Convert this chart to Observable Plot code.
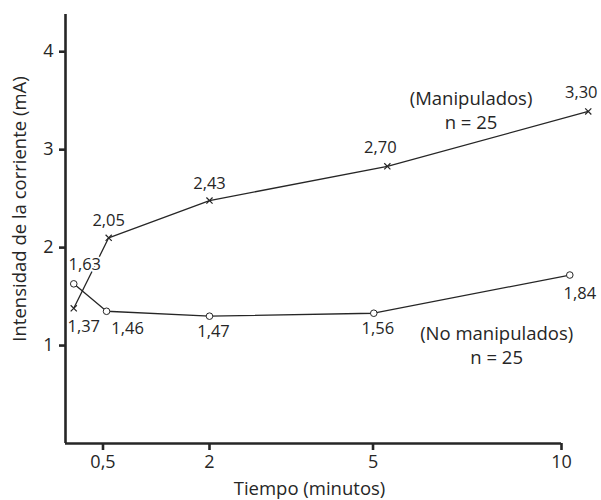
<!DOCTYPE html>
<html>
<head>
<meta charset="utf-8">
<script src="https://cdn.jsdelivr.net/npm/d3@7"></script>
<script src="https://cdn.jsdelivr.net/npm/@observablehq/plot@0.6"></script>
<style>
  html, body { margin: 0; padding: 0; background: #fff; }
  #chart svg { display: block; }
</style>
</head>
<body>
<div id="chart"></div>
<script>
// ---- data ----
const seriesNames = ["Manipulados", "No manipulados"];

const manipTime   = [0.11, 0.58, 2, 5.38, 10.71];
const manipValue  = [1.38, 2.10, 2.48, 2.83, 3.39];
const manipLabel  = ["1,37", "2,05", "2,43", "2,70", "3,30"];
const manipPlace  = ["belowRight", "above", "above", "aboveLeft", "aboveLeft"];

const noManipTime  = [0.11, 0.55, 2, 5.02, 10.22];
const noManipValue = [1.63, 1.35, 1.30, 1.33, 1.72];
const noManipLabel = ["1,63", "1,46", "1,47", "1,56", "1,84"];
const noManipPlace = ["aboveRight", "belowRightFar", "below", "below", "belowRight"];

const xTicks = [0.5, 2, 5, 10];
const xTickLabels = ["0,5", "2", "5", "10"];
const yTicks = [1, 2, 3, 4];

const annotTexts = ["(Manipulados)\nn = 25", "(No manipulados)\nn = 25"];
const annotTime  = [7.6, 8.28];
const annotValue = [3.21, 0.81];

const xTitle = "Tiempo (minutos)";
const yTitle = "Intensidad de la corriente (mA)";

// ---- build tables ----
const manip = manipTime.map((t, i) => ({series: seriesNames[0], t, v: manipValue[i], label: manipLabel[i], place: manipPlace[i]}));
const noManip = noManipTime.map((t, i) => ({series: seriesNames[1], t, v: noManipValue[i], label: noManipLabel[i], place: noManipPlace[i]}));
const all = manip.concat(noManip);
const annots = annotTexts.map((text, i) => ({text, t: annotTime[i], v: annotValue[i]}));

// label placement → offsets (pixels)
const placements = {
  above:         {dx: 0,  dy: -12},
  aboveLeft:     {dx: -7, dy: -13},
  aboveRight:    {dx: 11, dy: -14},
  belowRight:    {dx: 10, dy: 24},
  belowRightFar: {dx: 21, dy: 23},
  below:         {dx: 4,  dy: 21}
};

const W = 601, H = 500;
const mL = 65, mR = 40, mT = 14, mB = 57;
// hand-drawn, non-uniform time axis: piecewise scale
const xDomain = [0, 0.5, 2, 5, 10];
const xFrac = [0, 0.0756, 0.2903, 0.6200, 1];
const xRange = xFrac.map(f => mL + f * (W - mL - mR));

const ink = "#262626";
const font = "Open Sans, sans-serif";

const labelMarks = Object.entries(placements).map(([key, off]) =>
  Plot.text(all.filter(d => d.place === key), {
    x: "t", y: "v", text: "label",
    dx: off.dx, dy: off.dy,
    lineAnchor: "bottom", textAnchor: "middle",
    fontSize: 16.5, fill: ink,
    stroke: "white", strokeWidth: 4, paintOrder: "stroke"
  })
);

const chart = Plot.plot({
  width: W, height: H,
  marginLeft: mL, marginRight: mR, marginTop: mT, marginBottom: mB,
  style: {fontFamily: font, color: ink, background: "white"},
  x: {type: "linear", domain: xDomain, range: xRange},
  y: {domain: [0, 4.38]},
  marks: [
    Plot.line(manip, {x: "t", y: "v", stroke: ink, strokeWidth: 1.3}),
    Plot.line(noManip, {x: "t", y: "v", stroke: ink, strokeWidth: 1.3}),
    ...labelMarks,
    Plot.dot(manip, {x: "t", y: "v", symbol: "times", r: 2.9, stroke: ink, strokeWidth: 1.2}),
    Plot.dot(noManip, {x: "t", y: "v", symbol: "circle", r: 3.3, fill: "white", stroke: ink, strokeWidth: 1}),
    Plot.text(annots, {x: "t", y: "v", text: "text", lineAnchor: "bottom", textAnchor: "middle", lineHeight: 1.3, fontSize: 18.5, fill: ink}),
    Plot.ruleY([0], {stroke: ink, strokeWidth: 2.6}),
    Plot.ruleX([0], {stroke: ink, strokeWidth: 2.6}),
    Plot.axisX({ticks: xTicks, tickFormat: d => xTickLabels[xTicks.indexOf(d)], tickSize: 7, tickPadding: 5, fontSize: 18, strokeWidth: 2.6, stroke: ink, fill: ink, label: null}),
    Plot.axisY({ticks: yTicks, tickFormat: d => String(d), tickSize: 6, tickPadding: 6, fontSize: 18, strokeWidth: 2.6, stroke: ink, fill: ink, label: null}),
    Plot.text([xTitle], {frameAnchor: "bottom", textAnchor: "middle", dx: -4, dy: 51, lineAnchor: "bottom", fontSize: 18.5, fill: ink}),
    Plot.text([yTitle], {frameAnchor: "left", textAnchor: "middle", lineAnchor: "middle", dx: -45, dy: -20, rotate: -90, fontSize: 18.5, fill: ink})
  ]
});

document.getElementById("chart").appendChild(chart);
</script>
</body>
</html>
